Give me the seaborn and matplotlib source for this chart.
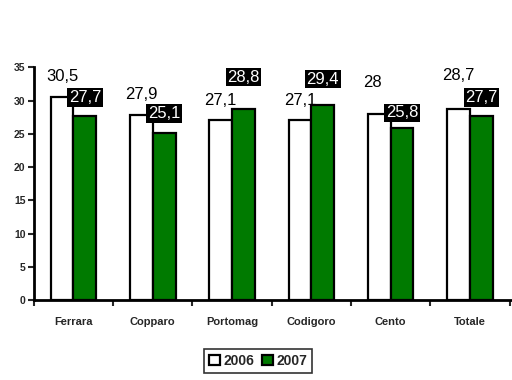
import matplotlib
matplotlib.use("Agg")
import matplotlib.pyplot as plt
import seaborn as sns
import pandas as pd
import numpy as np

categories = ["Ferrara", "Copparo", "Portomag", "Codigoro", "Cento", "Totale"]
v2006 = [30.5, 27.9, 27.1, 27.1, 28.0, 28.7]
v2007 = [27.7, 25.1, 28.8, 29.4, 25.8, 27.7]
years = ["2006", "2007"]

# label placement offsets in pixels (dx, dy above bar top)
off06 = [(0, 13), (0, 13), (0, 12), (0, 12), (-7, 24), (0, 26)]
off07 = [(0, 9), (0, 10), (0, 22), (0, 16), (0, 6), (0, 9)]

df = pd.DataFrame({
    "cat": categories * 2,
    "year": [years[0]] * len(categories) + [years[1]] * len(categories),
    "val": v2006 + v2007,
})

sns.set_style("white")
plt.rcParams["font.family"] = ["Liberation Sans", "DejaVu Sans"]

fig = plt.figure(figsize=(5.12, 3.8), dpi=100)
ax = fig.add_axes([0.066, 0.21, 0.934, 0.613])

sns.barplot(data=df, x="cat", y="val", hue="year", order=categories,
            palette={"2006": "white", "2007": "#007A00"}, saturation=1,
            edgecolor="black", linewidth=1.6, width=0.575, ax=ax, legend=True)

ax.set_ylim(0, 35)
ax.set_xlim(-0.5, len(categories) - 0.5 + 0.03)
ax.set_yticks(range(0, 36, 5))
ax.set_xlabel("")
ax.set_ylabel("")
for s in ["top", "right"]:
    ax.spines[s].set_visible(False)
for s in ["left", "bottom"]:
    ax.spines[s].set_linewidth(2)
    ax.spines[s].set_color("black")

ax.tick_params(axis="y", which="major", direction="out", length=4, width=1.5,
               labelsize=7.5, left=True, pad=2)
ax.tick_params(axis="x", which="major", length=0, labelsize=8, pad=12)
ax.set_xticks(np.arange(-0.5, len(categories), 1.0), minor=True)
ax.tick_params(axis="x", which="minor", direction="out", length=4, width=1.5, bottom=True)
for lbl in ax.get_xticklabels() + ax.get_yticklabels():
    lbl.set_fontweight("bold")


def fmt(v):
    return str(int(v)) if v == int(v) else f"{v:.1f}".replace(".", ",")


c06, c07 = ax.containers[0], ax.containers[1]
for bar, v, (dx, dy) in zip(c06, v2006, off06):
    ax.annotate(fmt(v), (bar.get_x() + bar.get_width() / 2, bar.get_height()),
                xytext=(dx, dy), textcoords="offset pixels", ha="center", va="bottom",
                fontsize=12, color="black")
for bar, v, (dx, dy) in zip(c07, v2007, off07):
    ax.annotate(fmt(v), (bar.get_x() + bar.get_width() / 2, bar.get_height()),
                xytext=(dx, dy + 2), textcoords="offset pixels", ha="center", va="bottom",
                fontsize=12, color="white",
                bbox=dict(boxstyle="square,pad=0.1", fc="black", ec="none"))

leg = ax.legend(loc="upper center", bbox_to_anchor=(0.469, -0.209), ncol=2,
                frameon=True, fancybox=False, edgecolor="black",
                prop={"weight": "bold", "size": 10}, handlelength=0.8, handleheight=0.8,
                handletextpad=0.2, columnspacing=0.6, borderpad=0.35, borderaxespad=0)
leg.get_frame().set_linewidth(1.2)

fig.savefig("out.png", dpi=100)
